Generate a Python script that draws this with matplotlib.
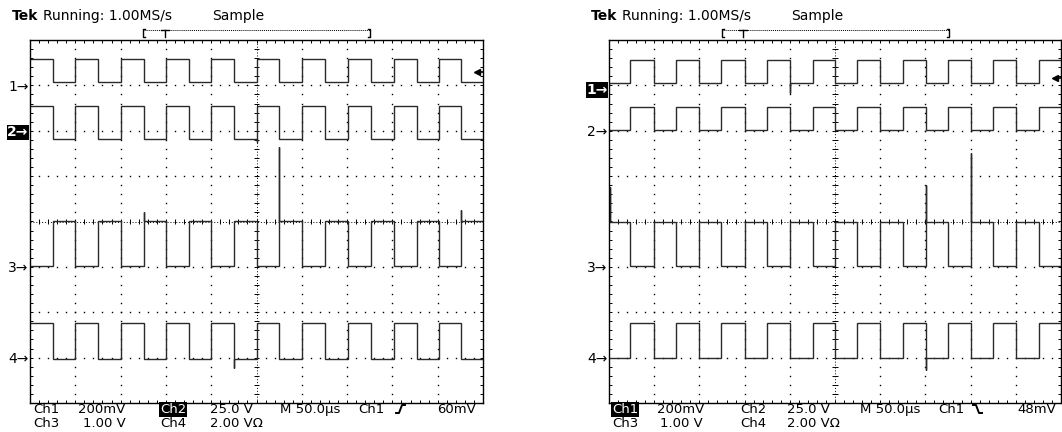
import matplotlib
matplotlib.use('Agg')
import matplotlib.pyplot as plt
from matplotlib.transforms import Affine2D
from matplotlib.lines import Line2D
import numpy as np

W, H = 1062, 432

# time axis: 10 div x 50us, vertical: 8 div
T_END = 500

# ---- left screen (trigger Ch1 rising, 60mV) ----
left_edges = [25, 50, 75, 100, 126, 150, 175, 200, 225, 250, 275, 300, 326, 351, 376, 402, 427, 451, 476]
left_first_high = True
left_hi = [3.58, 2.54, -0.98, -2.24]     # level of ch1..ch4 while ch1 is high
left_lo = [3.07, 1.82, 0.01, -3.03]      # level of ch1..ch4 while ch1 is low
left_ground = [3.0, 2.0, -1.0, -3.0]
left_spikes = [(2, 126, 0.21), (2, 275, 1.64), (2, 476, 0.25), (3, 225, -3.23), (1, 250, 1.75)]
left_trig = 3.30
left_sel = 1   # Ch2 marker highlighted
left_read1 = ['Ch1', '200mV', 'Ch2', '25.0 V', 'M 50.0\u00b5s', 'Ch1', '60mV']
left_read2 = ['Ch3', '1.00 V', 'Ch4', '2.00 V\u03a9']

# ---- right screen (trigger Ch1 falling, 48mV) ----
right_edges = [23, 50, 74, 100, 124, 150, 175, 200, 226, 250, 274, 300, 325, 351, 375, 400, 425, 450, 476]
right_first_high = False
right_hi = [3.56, 2.52, -0.98, -2.24]
right_lo = [3.05, 2.02, 0.0, -3.0]
right_ground = [2.93, 2.0, -1.0, -3.0]
right_spikes = [(2, 1.5, 0.76), (0, 200, 2.83), (2, 351, 0.80), (2, 400, 1.51), (3, 351, -3.27)]
right_trig = 3.16
right_sel = 0
right_read1 = ['Ch1', '200mV', 'Ch2', '25.0 V', 'M 50.0\u00b5s', 'Ch1', '48mV']
right_read2 = ['Ch3', '1.00 V', 'Ch4', '2.00 V\u03a9']

channels = ['1', '2', '3', '4']

fig = plt.figure(figsize=(W / 100, H / 100), dpi=100)
fig.patch.set_facecolor('white')
px = Affine2D().scale(1 / W, -1 / H).translate(0, 1) + fig.transFigure


def trace(edges, first_high, hi, lo, spikes):
    high = first_high
    lvl = hi if high else lo
    xs, ys = [0], [lvl]
    # glitch before the first edge
    for t, p in spikes.items():
        if t < edges[0]:
            xs += [t, t, t]
            ys += [lvl, p, lvl]
    for t in edges:
        xs.append(t); ys.append(lvl)
        high = not high
        lvl = hi if high else lo
        if t in spikes:
            xs.append(t); ys.append(spikes[t])
        xs.append(t); ys.append(lvl)
    xs.append(T_END); ys.append(lvl)
    return xs, ys


def screen(x0, width, edges, first_high, hi, lo, ground, spikes, trig, sel):
    ax = fig.add_axes([x0 / W, 29 / H, width / W, 363 / H])
    ax.set_xlim(0, T_END)
    ax.set_ylim(-4, 4)
    ax.set_xticks([])
    ax.set_yticks([])
    for s in ax.spines.values():
        s.set_linewidth(1.0)
        s.set_color('black')

    # graticule dots
    minor_x = np.arange(10, T_END, 10)
    minor_y = np.arange(-3.8, 4.0, 0.2)
    for gy in [-3, -2, -1, 1, 2, 3]:
        ax.plot(minor_x, np.full_like(minor_x, gy, dtype=float), ls='none', marker='s',
                ms=1.0, mew=0, color='black')
    for gx in [50, 100, 150, 200, 300, 350, 400, 450]:
        ax.plot(np.full_like(minor_y, gx), minor_y, ls='none', marker='s',
                ms=1.0, mew=0, color='black')
    # centre lines with ticks
    ax.axhline(0, ls=(0, (1, 2)), lw=0.7, color='black')
    ax.axvline(250, ls=(0, (1, 2)), lw=0.7, color='black')
    dx = 3.3
    dy = 0.066
    ax.vlines(minor_x, -dy, dy, lw=0.7, color='black')
    ax.hlines(minor_y, 250 - dx, 250 + dx, lw=0.7, color='black')
    # frame ticks
    ax.vlines(minor_x, 4 - dy, 4, lw=0.7, color='black')
    ax.vlines(minor_x, -4, -4 + dy, lw=0.7, color='black')
    ax.hlines(minor_y, 0, dx, lw=0.7, color='black')
    ax.hlines(minor_y, T_END - dx, T_END, lw=0.7, color='black')

    # traces
    for i in range(4):
        sp = {t: p for (c, t, p) in spikes if c == i}
        xs, ys = trace(edges, first_high, hi[i], lo[i], sp)
        ax.plot(xs, ys, color='#2a2a2a', lw=1.0, solid_joinstyle='miter')

    # ground markers
    for i, g in enumerate(ground):
        if i == sel:
            ax.text(-1.5, g, channels[i] + '\u2192', ha='right', va='center_baseline',
                    fontsize=10, color='white', fontweight='bold', clip_on=False,
                    bbox=dict(boxstyle='square,pad=0.05', fc='black', ec='none'))
        else:
            ax.text(-1.5, g, channels[i] + '\u2192', ha='right', va='center_baseline',
                    fontsize=10, color='black', clip_on=False)

    # trigger level marker
    ax.plot([T_END - 6, T_END], [trig, trig], color='black', lw=1.2, clip_on=False)
    ax.plot([T_END - 7], [trig], marker='<', ms=5, color='black', clip_on=False)
    return ax


def header(x0):
    fig.text(x0 - 18, 20, 'Tek', transform=px, fontsize=10, fontweight='bold',
             ha='left', va='baseline')
    fig.text(x0 + 13, 20, 'Running: 1.00MS/s', transform=px, fontsize=10,
             ha='left', va='baseline')
    fig.text(x0 + 182, 20, 'Sample', transform=px, fontsize=10,
             ha='left', va='baseline')


def record_bar(xa, xt, xb):
    fig.add_artist(Line2D([xa, xb], [30, 30], transform=px, color='black',
                          lw=0.7, ls=(0, (1, 1))))
    fig.add_artist(Line2D([xa + 2, xa, xa, xa + 2], [29, 29, 37, 37], transform=px,
                          color='black', lw=1.0))
    fig.add_artist(Line2D([xb - 2, xb, xb, xb - 2], [29, 29, 37, 37], transform=px,
                          color='black', lw=1.0))
    fig.add_artist(Line2D([xt - 4, xt + 4], [30, 30], transform=px, color='black', lw=1.0))
    fig.add_artist(Line2D([xt, xt], [30, 37], transform=px, color='black', lw=1.0))


def readout(x0, row1, row2, xs1, xs2, hl, edge):
    for j, (s, x) in enumerate(zip(row1, xs1)):
        kw = {}
        if j == hl:
            kw = dict(color='white', bbox=dict(boxstyle='square,pad=0.08', fc='black', ec='none'))
        fig.text(x0 + x, 413, s, transform=px, fontsize=9.5, ha='left', va='baseline', **kw)
    for s, x in zip(row2, xs2):
        fig.text(x0 + x, 427, s, transform=px, fontsize=9.5, ha='left', va='baseline')
    fig.add_artist(Line2D([x0 + e[0] for e in edge], [e[1] for e in edge], transform=px,
                          color='black', lw=1.4))


# left screen
screen(30, 453, left_edges, left_first_high, left_hi, left_lo, left_ground,
       left_spikes, left_trig, left_sel)
header(30)
record_bar(143, 165, 370)
readout(0, left_read1, left_read2, [33, 78, 160, 210, 280, 358, 437], [33, 83, 160, 210],
        2, [(396, 413), (399, 413), (402, 405), (405, 405)])

# right screen
screen(609, 452, right_edges, right_first_high, right_hi, right_lo, right_ground,
       right_spikes, right_trig, right_sel)
header(609)
record_bar(722, 743, 949)
readout(560, right_read1, right_read2, [52, 97, 180, 227, 300, 378, 457], [52, 100, 180, 227],
        0, [(413, 405), (416, 405), (419, 413), (422, 413)])

fig.savefig('out.png', dpi=100)
